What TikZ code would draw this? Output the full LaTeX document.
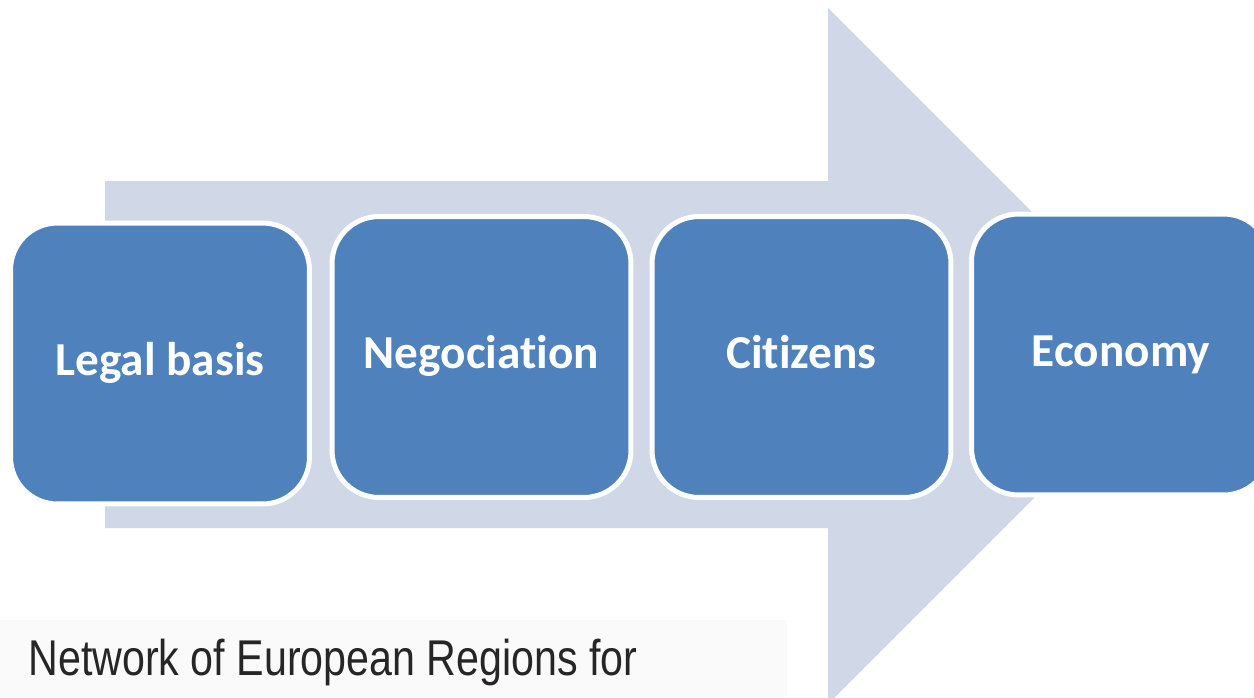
\documentclass[tikz,border=0pt]{standalone}
\usepackage{fontspec}
\setmainfont{Carlito}[Ligatures=NoCommon]
\newfontfamily\netfont{Liberation Sans}
\usepackage{tikz}
\definecolor{arrowgrey}{HTML}{D0D8E8}
\definecolor{boxblue}{HTML}{4F81BD}
\definecolor{netgrey}{HTML}{FAFAFA}
\tikzset{stepbox/.style={draw=white, fill=boxblue, line width=0.1cm, rounded corners=0.94cm, minimum width=5.98cm, minimum height=5.62cm, inner sep=0pt, text=white, font=\fontsize{26.9}{32}\selectfont\bfseries, text height=18.7pt, text depth=5.1pt}}

\begin{document}
\begin{tikzpicture}[x=0.02cm, y=-0.02cm]
\useasboundingbox (0,0) rectangle (1254,697);
\clip (0,0) rectangle (1254,697);
\fill [arrowgrey] (105,181) -- (828,181) -- (828,8) -- (1176,356) -- (828,704) -- (828,528) -- (105,528) -- cycle;
\fill [netgrey] (0,620) rectangle (787,697);
\node [anchor=base west, inner sep=0, text=black!85] (network) at (28,675) {\netfont\fontsize{28.6}{34}\selectfont\scalebox{0.82}[1]{Network of European Regions for}};
\foreach \n/\x/\y/\t in {legal/160/363.5/Legal basis, nego/481.5/357/Negociation, citizens/801.5/357/Citizens, economy/1121/354.5/Economy}
{
\node [stepbox] (\n) at (\x,\y) {\t};
}
\end{tikzpicture}
\end{document}
